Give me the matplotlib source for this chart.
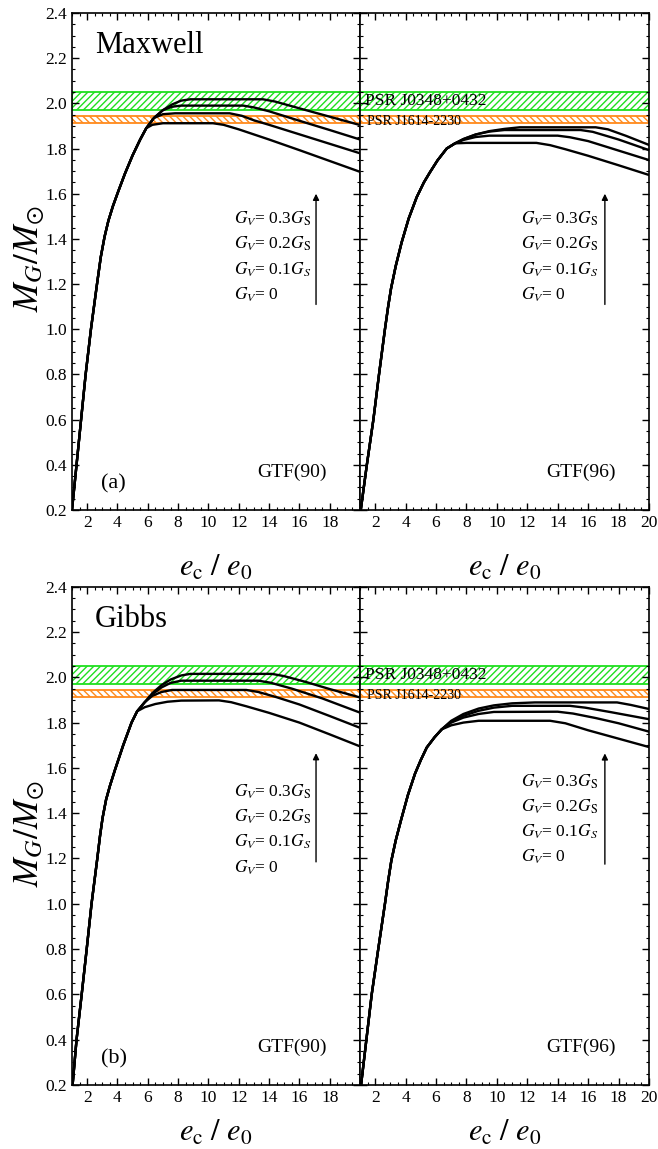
import matplotlib
matplotlib.use("Agg")
import matplotlib.pyplot as plt
from matplotlib.ticker import MultipleLocator, FormatStrFormatter

plt.rcParams.update(
    {
        "font.family": ["Liberation Serif", "DejaVu Serif"],
        "mathtext.fontset": "stix",
        "font.size": 12,
        "hatch.linewidth": 1.0,
        "axes.linewidth": 1.2,
    }
)

# ── Data ──────────────────────────────────────────────────────────────────────
# Maxwell construction, GTF(90)
mx90_rise_x = [1.0, 1.3, 1.6, 1.9, 2.25, 2.65, 2.9, 3.15, 3.4, 3.7, 4.05, 4.5, 5.0, 5.5, 5.9]
mx90_rise_y = [0.2, 0.4, 0.6, 0.8, 1.0, 1.2, 1.32, 1.41, 1.48, 1.545, 1.61, 1.69, 1.77, 1.84, 1.89]
mx90_gv0_x = [5.9, 6.3, 7.0, 10.3, 11.0, 12.0, 14.0, 16.0, 18.0, 20.0]
mx90_gv0_y = [1.89, 1.905, 1.912, 1.912, 1.905, 1.885, 1.84, 1.793, 1.745, 1.697]
mx90_gv1_x = [5.9, 6.4, 7.0, 7.8, 11.4, 12.2, 13.0, 14.0, 16.0, 18.0, 20.0]
mx90_gv1_y = [1.89, 1.935, 1.952, 1.956, 1.956, 1.945, 1.925, 1.905, 1.863, 1.821, 1.779]
mx90_gv2_x = [5.9, 6.4, 7.0, 7.6, 8.2, 12.3, 13.0, 14.0, 16.0, 18.0, 20.0]
mx90_gv2_y = [1.89, 1.935, 1.97, 1.985, 1.99, 1.99, 1.982, 1.965, 1.923, 1.882, 1.840]
mx90_gv3_x = [5.9, 6.4, 7.0, 7.6, 8.2, 8.8, 13.6, 14.4, 16.0, 18.0, 20.0]
mx90_gv3_y = [1.89, 1.935, 1.97, 1.995, 2.012, 2.018, 2.018, 2.008, 1.978, 1.941, 1.904]

# Maxwell construction, GTF(96)
mx96_rise_x = [1.05, 1.45, 1.88, 2.25, 2.64, 2.85, 3.04, 3.35, 3.74, 4.2, 4.73, 5.2, 5.6, 6.1, 6.7, 7.25]
mx96_rise_y = [0.2, 0.4, 0.6, 0.8, 1.0, 1.1, 1.18, 1.28, 1.385, 1.49, 1.585, 1.65, 1.695, 1.748, 1.8, 1.823]
mx96_gv0_x = [7.25, 8.0, 12.6, 13.5, 14.5, 16.0, 18.0, 20.0]
mx96_gv0_y = [1.823, 1.825, 1.825, 1.815, 1.797, 1.768, 1.726, 1.683]
mx96_gv1_x = [7.25, 7.8, 8.6, 9.5, 14.0, 14.8, 16.0, 18.0, 20.0]
mx96_gv1_y = [1.823, 1.838, 1.851, 1.857, 1.857, 1.85, 1.833, 1.791, 1.749]
mx96_gv2_x = [7.25, 7.8, 8.6, 9.5, 10.5, 15.5, 16.3, 18.0, 20.0]
mx96_gv2_y = [1.823, 1.842, 1.862, 1.875, 1.882, 1.882, 1.874, 1.84, 1.793]
mx96_gv3_x = [7.25, 7.8, 8.6, 9.5, 10.5, 11.5, 16.5, 17.3, 18.5, 20.0]
mx96_gv3_y = [1.823, 1.842, 1.862, 1.877, 1.887, 1.894, 1.894, 1.885, 1.856, 1.816]

# Gibbs construction, GTF(90)
gb90_rise_x = [1.04, 1.3, 1.64, 1.97, 2.29, 2.67, 2.85, 3.02, 3.25, 3.5, 3.83, 4.38, 4.93, 5.3]
gb90_rise_y = [0.2, 0.4, 0.6, 0.8, 1.0, 1.2, 1.3, 1.38, 1.46, 1.52, 1.59, 1.7, 1.8, 1.85]
gb90_gv0_x = [5.3, 5.8, 6.5, 7.3, 8.2, 10.7, 11.5, 12.5, 14.0, 16.0, 18.0, 20.0]
gb90_gv0_y = [1.85, 1.868, 1.882, 1.892, 1.897, 1.898, 1.89, 1.872, 1.843, 1.8, 1.748, 1.695]
gb90_gv1_x = [5.3, 5.8, 6.3, 6.9, 7.6, 12.5, 13.3, 14.5, 16.0, 18.0, 20.0]
gb90_gv1_y = [1.85, 1.89, 1.918, 1.935, 1.944, 1.944, 1.935, 1.912, 1.88, 1.829, 1.777]
gb90_gv2_x = [5.3, 5.8, 6.3, 6.9, 7.5, 8.2, 13.3, 14.1, 15.5, 17.5, 20.0]
gb90_gv2_y = [1.85, 1.89, 1.925, 1.955, 1.975, 1.985, 1.985, 1.976, 1.95, 1.907, 1.844]
gb90_gv3_x = [5.3, 5.8, 6.3, 6.9, 7.5, 8.2, 8.8, 14.2, 15.0, 16.5, 18.0, 20.0]
gb90_gv3_y = [1.85, 1.89, 1.93, 1.965, 1.99, 2.008, 2.015, 2.015, 2.005, 1.978, 1.948, 1.911]

# Gibbs construction, GTF(96)
gb96_rise_x = [1.07, 1.42, 1.77, 2.2, 2.64, 2.85, 3.06, 3.35, 3.7, 4.15, 4.62, 5.0, 5.39, 5.9, 6.37]
gb96_rise_y = [0.2, 0.4, 0.6, 0.8, 1.0, 1.1, 1.19, 1.28, 1.37, 1.48, 1.575, 1.635, 1.69, 1.735, 1.77]
gb96_gv0_x = [6.37, 7.0, 7.8, 8.8, 13.5, 14.5, 16.0, 18.0, 20.0]
gb96_gv0_y = [1.77, 1.788, 1.8, 1.808, 1.808, 1.797, 1.766, 1.729, 1.692]
gb96_gv1_x = [6.37, 7.0, 7.8, 8.8, 9.8, 14.0, 15.0, 16.5, 18.0, 20.0]
gb96_gv1_y = [1.77, 1.8, 1.822, 1.838, 1.847, 1.848, 1.84, 1.82, 1.797, 1.76]
gb96_gv2_x = [6.37, 7.0, 7.8, 8.8, 9.8, 11.0, 14.8, 15.8, 17.5, 20.0]
gb96_gv2_y = [1.77, 1.805, 1.83, 1.852, 1.866, 1.874, 1.874, 1.866, 1.846, 1.815]
gb96_gv3_x = [6.37, 7.0, 7.8, 8.8, 9.8, 11.0, 12.5, 17.9, 18.8, 20.0]
gb96_gv3_y = [1.77, 1.808, 1.838, 1.862, 1.876, 1.885, 1.889, 1.889, 1.878, 1.86]

# pulsar mass constraints (centre, half-width)
psr_j0348 = (2.01, 0.04)
psr_j1614 = (1.928, 0.017)

gv_labels = [
    r"$G_V$= 0.3$G_{\rm S}$",
    r"$G_V$= 0.2$G_{\rm S}$",
    r"$G_V$= 0.1$G_S$",
    r"$G_V$= 0",
]

GREEN = "#1fdf1f"
ORANGE = "#ff8a1c"

# ── Figure ────────────────────────────────────────────────────────────────────
fig = plt.figure(figsize=(6.58, 11.49), dpi=100)
ax_tl = fig.add_axes([0.1094, 0.5561, 0.4377, 0.4326])
ax_tr = fig.add_axes([0.5471, 0.5561, 0.4392, 0.4326])
ax_bl = fig.add_axes([0.1094, 0.0557, 0.4377, 0.4337])
ax_br = fig.add_axes([0.5471, 0.0557, 0.4392, 0.4337])

panels = [
    (ax_tl, mx90_rise_x, mx90_rise_y,
     [(mx90_gv0_x, mx90_gv0_y), (mx90_gv1_x, mx90_gv1_y), (mx90_gv2_x, mx90_gv2_y), (mx90_gv3_x, mx90_gv3_y)],
     "GTF(90)", [1.49, 1.377, 1.262, 1.152], (1.11, 1.60), -0.118),
    (ax_tr, mx96_rise_x, mx96_rise_y,
     [(mx96_gv0_x, mx96_gv0_y), (mx96_gv1_x, mx96_gv1_y), (mx96_gv2_x, mx96_gv2_y), (mx96_gv3_x, mx96_gv3_y)],
     "GTF(96)", [1.49, 1.377, 1.262, 1.152], (1.11, 1.60), -0.118),
    (ax_bl, gb90_rise_x, gb90_rise_y,
     [(gb90_gv0_x, gb90_gv0_y), (gb90_gv1_x, gb90_gv1_y), (gb90_gv2_x, gb90_gv2_y), (gb90_gv3_x, gb90_gv3_y)],
     "GTF(90)", [1.496, 1.385, 1.274, 1.16], (1.185, 1.665), -0.096),
    (ax_br, gb96_rise_x, gb96_rise_y,
     [(gb96_gv0_x, gb96_gv0_y), (gb96_gv1_x, gb96_gv1_y), (gb96_gv2_x, gb96_gv2_y), (gb96_gv3_x, gb96_gv3_y)],
     "GTF(96)", [1.54, 1.429, 1.318, 1.207], (1.175, 1.664), -0.096),
]

for i, (ax, rx, ry, tails, gtf, label_y, arrow_y, xlab_y) in enumerate(panels):
    left = i % 2 == 0
    ax.axhspan(psr_j0348[0] - psr_j0348[1], psr_j0348[0] + psr_j0348[1],
               facecolor="none", edgecolor=GREEN, hatch="/////", lw=1.3, zorder=1)
    ax.axhspan(psr_j1614[0] - psr_j1614[1], psr_j1614[0] + psr_j1614[1],
               facecolor="none", edgecolor=ORANGE, hatch="\\\\\\\\\\", lw=1.3, zorder=1)
    for tx, ty in tails:
        ax.plot(rx + tx[1:], ry + ty[1:], color="black", lw=1.7,
                solid_joinstyle="round", zorder=3)

    ax.set_xlim(1, 20)
    ax.set_ylim(0.2, 2.4)
    ax.set_xticks(range(2, 20 if left else 21, 2))
    ax.xaxis.set_minor_locator(MultipleLocator(0.5))
    ax.yaxis.set_major_locator(MultipleLocator(0.2))
    ax.yaxis.set_minor_locator(MultipleLocator(0.05))
    ax.yaxis.set_major_formatter(FormatStrFormatter("%.1f"))
    ax.tick_params(which="both", direction="in", top=True, right=True, labelsize=12.5)
    ax.tick_params(which="major", length=5, width=1.0)
    ax.tick_params(which="minor", length=2.5, width=0.8)
    if not left:
        ax.tick_params(labelleft=False)

    ax.text(0.765, 0.075, gtf, transform=ax.transAxes, ha="center", va="center", fontsize=14)
    lx = 11.7 if left else 11.6
    for txt, yy in zip(gv_labels, label_y):
        ax.text(lx, yy, txt, ha="left", va="center", fontsize=12.5)
    ax.annotate("", xy=(17.1, arrow_y[1]), xytext=(17.1, arrow_y[0]),
                arrowprops=dict(arrowstyle="-|>", color="black", lw=1.0,
                                mutation_scale=9, shrinkA=0, shrinkB=0))

    if not left:
        ax.text(1.3, psr_j0348[0], "PSR J0348+0432", ha="left", va="center", fontsize=12.5)
        ax.text(1.45, psr_j1614[0] - 0.01, "PSR J1614-2230", ha="left", va="center", fontsize=10)

    ax.text(0.5, xlab_y, r"$e_{\rm c}\ /\ e_{0}$", transform=ax.transAxes,
            ha="center", va="center", fontsize=22)

ax_tl.text(0.08, 0.935, "Maxwell", transform=ax_tl.transAxes, ha="left", va="center", fontsize=22)
ax_bl.text(0.08, 0.935, "Gibbs", transform=ax_bl.transAxes, ha="left", va="center", fontsize=22)
ax_tl.text(0.1, 0.052, "(a)", transform=ax_tl.transAxes, ha="left", va="center", fontsize=16)
ax_bl.text(0.1, 0.052, "(b)", transform=ax_bl.transAxes, ha="left", va="center", fontsize=16)

fig.text(0.045, 0.775, r"$M_G/M_{\odot}$", rotation=90, ha="center", va="center", fontsize=25)
fig.text(0.045, 0.2746, r"$M_G/M_{\odot}$", rotation=90, ha="center", va="center", fontsize=25)

fig.savefig("out.png", dpi=100)
